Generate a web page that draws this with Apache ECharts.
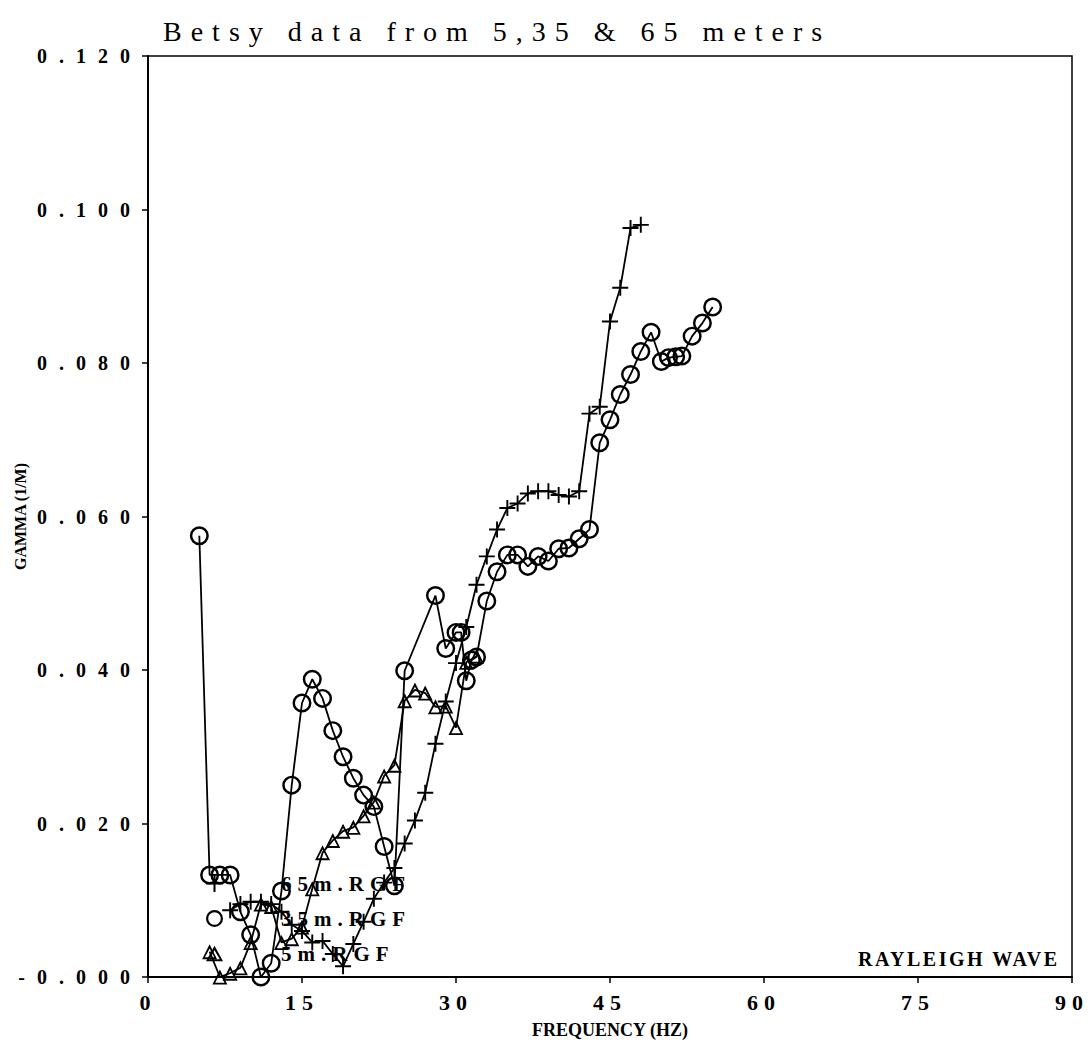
<!DOCTYPE html>
<html>
<head>
<meta charset="utf-8">
<script src="https://cdn.jsdelivr.net/npm/echarts@6/dist/echarts.min.js"></script>
<style>
  html, body { margin: 0; padding: 0; background: #fff; }
  #chart { width: 1088px; height: 1054px; }
  /* letter-spaced texts, picked out by a dummy family name in the svg */
  #chart text[style*="gapwide"] { letter-spacing: 9px; }
  #chart text[style*="gapy"] { letter-spacing: 12px; }
  #chart text[style*="gapmid"] { letter-spacing: 6px; }
  #chart text[style*="gapsmall"] { letter-spacing: 2.5px; }
</style>
</head>
<body>
<div id="chart"></div>
<script>
// 65 m (plus)
var freq65 = [8, 9, 10, 11, 12, 13, 14, 15, 16, 17, 18, 19, 20, 21, 22, 23, 24, 25, 26, 27, 28,
  29, 30, 31, 32, 33, 34, 35, 36, 37, 38, 39, 40, 41, 42, 43, 44, 45, 46, 47, 48];
var gamma65 = [0.0087, 0.0095, 0.0098, 0.0098, 0.0095, 0.0085, 0.0068, 0.006, 0.0045, 0.0047, 0.003,
  0.0014, 0.0043, 0.0072, 0.0102, 0.0123, 0.0142, 0.0174, 0.0204, 0.024, 0.0304, 0.0359, 0.0409,
  0.0456, 0.0511, 0.0548, 0.0583, 0.0611, 0.0617, 0.063, 0.0633, 0.0633, 0.0628, 0.0626, 0.0633,
  0.0734, 0.0743, 0.0854, 0.0898, 0.0976, 0.098];

// 35 m (circle)
var freq35 = [5, 6, 7, 8, 9, 10, 11, 12, 13, 14, 15, 16, 17, 18, 19, 20, 21, 22, 23, 24, 25,
  28, 29, 30, 30.5, 31, 31.5, 32, 33, 34, 35, 36, 37, 38, 39, 40, 41, 42, 43, 44, 45, 46, 47, 48,
  49, 50, 50.7, 51.4, 52, 53, 54, 55];
var gamma35 = [0.0575, 0.0133, 0.0133, 0.0133, 0.0085, 0.0055, 0.0, 0.0018, 0.0112, 0.025, 0.0357,
  0.0388, 0.0363, 0.0321, 0.0287, 0.0259, 0.0237, 0.0222, 0.017, 0.0119, 0.0399, 0.0497, 0.0428,
  0.0449, 0.0449, 0.0386, 0.0413, 0.0417, 0.049, 0.0528, 0.055, 0.055, 0.0535, 0.0548, 0.0542,
  0.0558, 0.0559, 0.0571, 0.0583, 0.0696, 0.0726, 0.0759, 0.0785, 0.0815, 0.084, 0.0802, 0.0807,
  0.0808, 0.0809, 0.0835, 0.0852, 0.0873];

// 5 m (triangle)
var freq5 = [6, 7, 8, 9, 10, 11, 12, 13, 14, 15, 16, 17, 18, 19, 20, 21, 22, 23, 24, 25, 26, 27,
  28, 29, 30, 31, 32];
var gamma5 = [0.0033, 0.0, 0.0005, 0.0012, 0.0045, 0.0095, 0.0092, 0.0045, 0.005, 0.0065, 0.0115,
  0.0162, 0.0178, 0.019, 0.0195, 0.021, 0.0228, 0.0262, 0.0276, 0.036, 0.0374, 0.037, 0.0352,
  0.0353, 0.0325, 0.041, 0.0418];

var seriesNames = ['65m.RGF', '35m.RGF', '5m.RGF'];

// hollow markers: outer shape clockwise, hole counter-clockwise
var PLUS = 'path://M0 8.8L20 8.8L20 11.2L0 11.2Z M8.8 0L11.2 0L11.2 20L8.8 20Z';
var RING = 'path://M0 10A10 10 0 1 1 20 10A10 10 0 1 1 0 10Z M2.6 10A7.4 7.4 0 1 0 17.4 10A7.4 7.4 0 1 0 2.6 10Z';
var TRI = 'path://M10 0L20 18L0 18Z M10 5.2L3.8 15.8L16.2 15.8Z';

var serif = "'Liberation Serif', serif";

function pairs(xs, ys) {
  return xs.map(function (x, i) {
    return [x, ys[i]];
  });
}

function lineSeries(name, data, symbol, size) {
  return {
    name: name,
    type: 'line',
    data: data,
    symbol: symbol,
    symbolSize: size,
    showAllSymbol: true,
    lineStyle: { color: '#000', width: 1.8 },
    itemStyle: { color: '#000' }
  };
}

var chart = echarts.init(document.getElementById('chart'), null, { renderer: 'svg' });

var option = {
  animation: false,
  backgroundColor: '#fff',
  title: {
    text: 'Betsy data from 5,35 & 65 meters',
    left: 158,
    top: 12,
    textStyle: {
      fontFamily: "'Liberation Serif', gapwide",
      fontSize: 28,
      fontWeight: 'normal',
      color: '#000'
    }
  },
  grid: {
    left: 148,
    right: 16,
    top: 56,
    bottom: 77,
    show: true,
    borderColor: '#000',
    borderWidth: 1.5
  },
  legend: {
    orient: 'vertical',
    left: 201,
    top: 868,
    itemWidth: 17,
    itemHeight: 17,
    itemGap: 14,
    data: [
      { name: seriesNames[0], icon: PLUS },
      { name: seriesNames[1], icon: RING },
      { name: seriesNames[2], icon: TRI }
    ],
    formatter: function (name) {
      return '{g|}' + name;
    },
    textStyle: {
      fontFamily: "'Liberation Serif', gapmid",
      fontWeight: 'bold',
      fontSize: 21,
      color: '#000',
      rich: { g: { width: 53 } }
    }
  },
  xAxis: {
    type: 'value',
    min: 0,
    max: 90,
    interval: 15,
    name: 'FREQUENCY (HZ)',
    nameLocation: 'middle',
    nameGap: 44,
    nameTextStyle: { fontFamily: serif, fontWeight: 'bold', fontSize: 18, color: '#000' },
    axisLine: { lineStyle: { color: '#000', width: 2 } },
    axisTick: { length: 6, lineStyle: { color: '#000', width: 1.5 } },
    axisLabel: {
      fontFamily: "'Liberation Serif', gapmid",
      fontWeight: 'bold',
      fontSize: 22,
      color: '#000',
      margin: 14
    },
    splitLine: { show: false }
  },
  yAxis: {
    type: 'value',
    min: 0,
    max: 0.12,
    interval: 0.02,
    name: 'GAMMA (1/M)',
    nameLocation: 'middle',
    nameGap: 120,
    nameTextStyle: { fontFamily: serif, fontWeight: 'bold', fontSize: 16, color: '#000' },
    axisLine: { show: true, lineStyle: { color: '#000', width: 2 } },
    axisTick: { show: true, length: 6, lineStyle: { color: '#000', width: 1.5 } },
    axisLabel: {
      fontFamily: "'Liberation Serif', gapy",
      fontWeight: 'bold',
      fontSize: 20,
      color: '#000',
      margin: 6,
      formatter: function (v) {
        return v === 0 ? '-0.000' : v.toFixed(3);
      }
    },
    splitLine: { show: false }
  },
  graphic: [{
    type: 'text',
    left: 858,
    top: 949,
    style: {
      text: 'RAYLEIGH WAVE',
      font: "bold 20px 'Liberation Serif', gapsmall",
      fill: '#000'
    }
  }],
  series: [
    lineSeries(seriesNames[0], pairs(freq65, gamma65), PLUS, 16),
    lineSeries(seriesNames[1], pairs(freq35, gamma35), RING, 19),
    lineSeries(seriesNames[2], pairs(freq5, gamma5), TRI, 15)
  ]
};

chart.setOption(option);
</script>
</body>
</html>
